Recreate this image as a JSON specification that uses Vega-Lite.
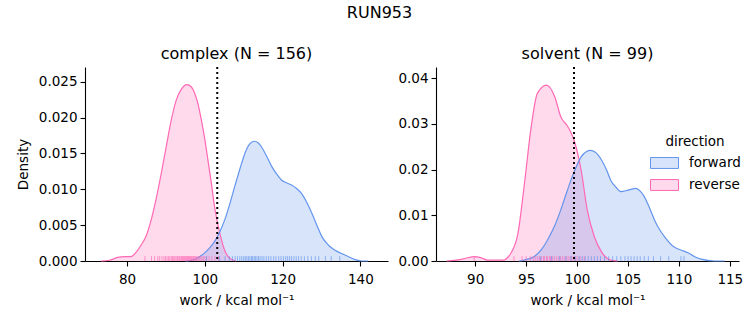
{
  "$schema": "https://vega.github.io/schema/vega-lite/v6.json",
  "padding": {"left": 16, "top": 5, "right": 5, "bottom": 5},
  "title": {"text": "RUN953", "fontSize": 16, "font": "DejaVu Sans", "fontWeight": "normal", "anchor": "middle", "frame": "bounds", "offset": 25, "color": "black"},
  "spacing": 9,
  "config": {
    "view": {"stroke": null},
    "font": "DejaVu Sans",
    "axis": {"grid": false, "domainColor": "black", "tickColor": "black", "labelColor": "black", "titleColor": "black", "labelFont": "DejaVu Sans", "titleFont": "DejaVu Sans", "labelFontSize": 13.5, "titleFontSize": 13.5, "titleFontWeight": "normal", "tickSize": 5, "labelPadding": 3, "domainWidth": 1.1, "tickWidth": 1.1, "labelOverlap": false},
    "axisX": {"labelPadding": 6, "titlePadding": 8},
    "title": {"fontSize": 16, "font": "DejaVu Sans", "fontWeight": "normal", "color": "black", "offset": 4}
  },
  "datasets": {
    "kde": [
      {"panel": "complex", "direction": "reverse", "work": 73.3, "density": 0},
      {"panel": "complex", "direction": "reverse", "work": 75.5, "density": 0.0001},
      {"panel": "complex", "direction": "reverse", "work": 77.6, "density": 0.0005},
      {"panel": "complex", "direction": "reverse", "work": 79.5, "density": 0.0006},
      {"panel": "complex", "direction": "reverse", "work": 81.0, "density": 0.0006},
      {"panel": "complex", "direction": "reverse", "work": 82.3, "density": 0.0012},
      {"panel": "complex", "direction": "reverse", "work": 83.6, "density": 0.0022},
      {"panel": "complex", "direction": "reverse", "work": 85.0, "density": 0.0036},
      {"panel": "complex", "direction": "reverse", "work": 86.2, "density": 0.0057},
      {"panel": "complex", "direction": "reverse", "work": 87.5, "density": 0.0087},
      {"panel": "complex", "direction": "reverse", "work": 88.8, "density": 0.0122},
      {"panel": "complex", "direction": "reverse", "work": 90.1, "density": 0.0160},
      {"panel": "complex", "direction": "reverse", "work": 91.4, "density": 0.0197},
      {"panel": "complex", "direction": "reverse", "work": 92.7, "density": 0.0225},
      {"panel": "complex", "direction": "reverse", "work": 93.9, "density": 0.0239},
      {"panel": "complex", "direction": "reverse", "work": 95.4, "density": 0.0246},
      {"panel": "complex", "direction": "reverse", "work": 96.5, "density": 0.0243},
      {"panel": "complex", "direction": "reverse", "work": 97.4, "density": 0.0234},
      {"panel": "complex", "direction": "reverse", "work": 98.3, "density": 0.0218},
      {"panel": "complex", "direction": "reverse", "work": 99.1, "density": 0.0197},
      {"panel": "complex", "direction": "reverse", "work": 100.0, "density": 0.0170},
      {"panel": "complex", "direction": "reverse", "work": 100.8, "density": 0.0141},
      {"panel": "complex", "direction": "reverse", "work": 101.7, "density": 0.0108},
      {"panel": "complex", "direction": "reverse", "work": 102.5, "density": 0.0076},
      {"panel": "complex", "direction": "reverse", "work": 103.4, "density": 0.0050},
      {"panel": "complex", "direction": "reverse", "work": 104.3, "density": 0.0029},
      {"panel": "complex", "direction": "reverse", "work": 105.1, "density": 0.0015},
      {"panel": "complex", "direction": "reverse", "work": 106.0, "density": 0.0006},
      {"panel": "complex", "direction": "reverse", "work": 107.0, "density": 0.0002},
      {"panel": "complex", "direction": "reverse", "work": 108.0, "density": 0},
      {"panel": "complex", "direction": "forward", "work": 95.0, "density": 0},
      {"panel": "complex", "direction": "forward", "work": 96.5, "density": 0.0001},
      {"panel": "complex", "direction": "forward", "work": 98.3, "density": 0.0005},
      {"panel": "complex", "direction": "forward", "work": 99.9, "density": 0.0011},
      {"panel": "complex", "direction": "forward", "work": 101.2, "density": 0.0018},
      {"panel": "complex", "direction": "forward", "work": 102.5, "density": 0.0027},
      {"panel": "complex", "direction": "forward", "work": 103.8, "density": 0.0040},
      {"panel": "complex", "direction": "forward", "work": 105.1, "density": 0.0057},
      {"panel": "complex", "direction": "forward", "work": 106.4, "density": 0.0079},
      {"panel": "complex", "direction": "forward", "work": 107.7, "density": 0.0104},
      {"panel": "complex", "direction": "forward", "work": 109.0, "density": 0.0128},
      {"panel": "complex", "direction": "forward", "work": 110.3, "density": 0.0150},
      {"panel": "complex", "direction": "forward", "work": 111.5, "density": 0.0163},
      {"panel": "complex", "direction": "forward", "work": 112.7, "density": 0.0167},
      {"panel": "complex", "direction": "forward", "work": 113.7, "density": 0.0165},
      {"panel": "complex", "direction": "forward", "work": 114.6, "density": 0.0159},
      {"panel": "complex", "direction": "forward", "work": 115.9, "density": 0.0146},
      {"panel": "complex", "direction": "forward", "work": 117.2, "density": 0.0132},
      {"panel": "complex", "direction": "forward", "work": 118.5, "density": 0.0121},
      {"panel": "complex", "direction": "forward", "work": 119.7, "density": 0.0113},
      {"panel": "complex", "direction": "forward", "work": 121.0, "density": 0.0109},
      {"panel": "complex", "direction": "forward", "work": 122.3, "density": 0.0106},
      {"panel": "complex", "direction": "forward", "work": 123.6, "density": 0.0101},
      {"panel": "complex", "direction": "forward", "work": 124.9, "density": 0.0094},
      {"panel": "complex", "direction": "forward", "work": 126.2, "density": 0.0082},
      {"panel": "complex", "direction": "forward", "work": 127.5, "density": 0.0067},
      {"panel": "complex", "direction": "forward", "work": 128.8, "density": 0.0050},
      {"panel": "complex", "direction": "forward", "work": 130.1, "density": 0.0034},
      {"panel": "complex", "direction": "forward", "work": 131.8, "density": 0.0022},
      {"panel": "complex", "direction": "forward", "work": 133.5, "density": 0.0015},
      {"panel": "complex", "direction": "forward", "work": 135.3, "density": 0.0010},
      {"panel": "complex", "direction": "forward", "work": 137.0, "density": 0.0006},
      {"panel": "complex", "direction": "forward", "work": 138.7, "density": 0.0002},
      {"panel": "complex", "direction": "forward", "work": 140.4, "density": 0},
      {"panel": "complex", "direction": "forward", "work": 142.0, "density": 0},
      {"panel": "solvent", "direction": "reverse", "work": 87.2, "density": 0},
      {"panel": "solvent", "direction": "reverse", "work": 88.5, "density": 0.0003},
      {"panel": "solvent", "direction": "reverse", "work": 89.9, "density": 0.00095},
      {"panel": "solvent", "direction": "reverse", "work": 90.6, "density": 0.0007},
      {"panel": "solvent", "direction": "reverse", "work": 91.2, "density": 0.0002},
      {"panel": "solvent", "direction": "reverse", "work": 92.7, "density": 0.0002},
      {"panel": "solvent", "direction": "reverse", "work": 93.5, "density": 0.0017},
      {"panel": "solvent", "direction": "reverse", "work": 94.2, "density": 0.0061},
      {"panel": "solvent", "direction": "reverse", "work": 94.8, "density": 0.0163},
      {"panel": "solvent", "direction": "reverse", "work": 95.5, "density": 0.0294},
      {"panel": "solvent", "direction": "reverse", "work": 96.1, "density": 0.0367},
      {"panel": "solvent", "direction": "reverse", "work": 97.0, "density": 0.0385},
      {"panel": "solvent", "direction": "reverse", "work": 97.8, "density": 0.0360},
      {"panel": "solvent", "direction": "reverse", "work": 98.4, "density": 0.0316},
      {"panel": "solvent", "direction": "reverse", "work": 99.1, "density": 0.0294},
      {"panel": "solvent", "direction": "reverse", "work": 99.7, "density": 0.0265},
      {"panel": "solvent", "direction": "reverse", "work": 100.4, "density": 0.0199},
      {"panel": "solvent", "direction": "reverse", "work": 101.0, "density": 0.0112},
      {"panel": "solvent", "direction": "reverse", "work": 101.7, "density": 0.0053},
      {"panel": "solvent", "direction": "reverse", "work": 102.4, "density": 0.0020},
      {"panel": "solvent", "direction": "reverse", "work": 103.3, "density": 0.0002},
      {"panel": "solvent", "direction": "reverse", "work": 104.0, "density": 0},
      {"panel": "solvent", "direction": "forward", "work": 94.3, "density": 0},
      {"panel": "solvent", "direction": "forward", "work": 94.8, "density": 0.0002},
      {"panel": "solvent", "direction": "forward", "work": 95.8, "density": 0.0010},
      {"panel": "solvent", "direction": "forward", "work": 96.5, "density": 0.0025},
      {"panel": "solvent", "direction": "forward", "work": 97.1, "density": 0.0046},
      {"panel": "solvent", "direction": "forward", "work": 97.8, "density": 0.0077},
      {"panel": "solvent", "direction": "forward", "work": 98.4, "density": 0.0112},
      {"panel": "solvent", "direction": "forward", "work": 98.9, "density": 0.0145},
      {"panel": "solvent", "direction": "forward", "work": 99.4, "density": 0.0177},
      {"panel": "solvent", "direction": "forward", "work": 99.9, "density": 0.0205},
      {"panel": "solvent", "direction": "forward", "work": 100.4, "density": 0.0228},
      {"panel": "solvent", "direction": "forward", "work": 100.9, "density": 0.0239},
      {"panel": "solvent", "direction": "forward", "work": 101.3, "density": 0.0242},
      {"panel": "solvent", "direction": "forward", "work": 101.8, "density": 0.0238},
      {"panel": "solvent", "direction": "forward", "work": 102.4, "density": 0.0221},
      {"panel": "solvent", "direction": "forward", "work": 102.9, "density": 0.0199},
      {"panel": "solvent", "direction": "forward", "work": 103.3, "density": 0.0177},
      {"panel": "solvent", "direction": "forward", "work": 103.8, "density": 0.0162},
      {"panel": "solvent", "direction": "forward", "work": 104.3, "density": 0.0152},
      {"panel": "solvent", "direction": "forward", "work": 105.0, "density": 0.0155},
      {"panel": "solvent", "direction": "forward", "work": 105.8, "density": 0.0159},
      {"panel": "solvent", "direction": "forward", "work": 106.2, "density": 0.0153},
      {"panel": "solvent", "direction": "forward", "work": 106.6, "density": 0.0141},
      {"panel": "solvent", "direction": "forward", "work": 107.1, "density": 0.0117},
      {"panel": "solvent", "direction": "forward", "work": 107.6, "density": 0.0090},
      {"panel": "solvent", "direction": "forward", "work": 108.1, "density": 0.0069},
      {"panel": "solvent", "direction": "forward", "work": 108.6, "density": 0.0053},
      {"panel": "solvent", "direction": "forward", "work": 109.5, "density": 0.0031},
      {"panel": "solvent", "direction": "forward", "work": 110.2, "density": 0.0024},
      {"panel": "solvent", "direction": "forward", "work": 110.9, "density": 0.0018},
      {"panel": "solvent", "direction": "forward", "work": 111.5, "density": 0.0010},
      {"panel": "solvent", "direction": "forward", "work": 112.2, "density": 0.0004},
      {"panel": "solvent", "direction": "forward", "work": 113.5, "density": 0},
      {"panel": "solvent", "direction": "forward", "work": 114.5, "density": 0}
    ],
    "rug": [
      {"panel": "complex", "direction": "reverse", "work": 84.6}, {"panel": "complex", "direction": "reverse", "work": 86.3}, {"panel": "complex", "direction": "reverse", "work": 87.1}, {"panel": "complex", "direction": "reverse", "work": 87.9}, {"panel": "complex", "direction": "reverse", "work": 88.4}, {"panel": "complex", "direction": "reverse", "work": 89.0}, {"panel": "complex", "direction": "reverse", "work": 89.5}, {"panel": "complex", "direction": "reverse", "work": 89.9}, {"panel": "complex", "direction": "reverse", "work": 90.3}, {"panel": "complex", "direction": "reverse", "work": 90.7}, {"panel": "complex", "direction": "reverse", "work": 91.0}, {"panel": "complex", "direction": "reverse", "work": 91.4}, {"panel": "complex", "direction": "reverse", "work": 91.7}, {"panel": "complex", "direction": "reverse", "work": 92.0}, {"panel": "complex", "direction": "reverse", "work": 92.3}, {"panel": "complex", "direction": "reverse", "work": 92.6}, {"panel": "complex", "direction": "reverse", "work": 92.9}, {"panel": "complex", "direction": "reverse", "work": 93.1}, {"panel": "complex", "direction": "reverse", "work": 93.4}, {"panel": "complex", "direction": "reverse", "work": 93.6}, {"panel": "complex", "direction": "reverse", "work": 93.9}, {"panel": "complex", "direction": "reverse", "work": 94.1}, {"panel": "complex", "direction": "reverse", "work": 94.3}, {"panel": "complex", "direction": "reverse", "work": 94.5}, {"panel": "complex", "direction": "reverse", "work": 94.8}, {"panel": "complex", "direction": "reverse", "work": 95.0}, {"panel": "complex", "direction": "reverse", "work": 95.2}, {"panel": "complex", "direction": "reverse", "work": 95.4}, {"panel": "complex", "direction": "reverse", "work": 95.6}, {"panel": "complex", "direction": "reverse", "work": 95.8}, {"panel": "complex", "direction": "reverse", "work": 96.0}, {"panel": "complex", "direction": "reverse", "work": 96.2}, {"panel": "complex", "direction": "reverse", "work": 96.4}, {"panel": "complex", "direction": "reverse", "work": 96.6}, {"panel": "complex", "direction": "reverse", "work": 96.9}, {"panel": "complex", "direction": "reverse", "work": 97.1}, {"panel": "complex", "direction": "reverse", "work": 97.3}, {"panel": "complex", "direction": "reverse", "work": 97.6}, {"panel": "complex", "direction": "reverse", "work": 97.9}, {"panel": "complex", "direction": "reverse", "work": 98.2}, {"panel": "complex", "direction": "reverse", "work": 98.5}, {"panel": "complex", "direction": "reverse", "work": 98.8}, {"panel": "complex", "direction": "reverse", "work": 99.2}, {"panel": "complex", "direction": "reverse", "work": 99.6}, {"panel": "complex", "direction": "reverse", "work": 100.0}, {"panel": "complex", "direction": "reverse", "work": 100.5}, {"panel": "complex", "direction": "reverse", "work": 101.1}, {"panel": "complex", "direction": "reverse", "work": 101.8}, {"panel": "complex", "direction": "reverse", "work": 102.6}, {"panel": "complex", "direction": "reverse", "work": 103.5},
      {"panel": "complex", "direction": "forward", "work": 100.4}, {"panel": "complex", "direction": "forward", "work": 103.8}, {"panel": "complex", "direction": "forward", "work": 105.2}, {"panel": "complex", "direction": "forward", "work": 106.3}, {"panel": "complex", "direction": "forward", "work": 107.1}, {"panel": "complex", "direction": "forward", "work": 107.8}, {"panel": "complex", "direction": "forward", "work": 108.4}, {"panel": "complex", "direction": "forward", "work": 109.0}, {"panel": "complex", "direction": "forward", "work": 109.5}, {"panel": "complex", "direction": "forward", "work": 110.0}, {"panel": "complex", "direction": "forward", "work": 110.4}, {"panel": "complex", "direction": "forward", "work": 110.8}, {"panel": "complex", "direction": "forward", "work": 111.2}, {"panel": "complex", "direction": "forward", "work": 111.6}, {"panel": "complex", "direction": "forward", "work": 112.0}, {"panel": "complex", "direction": "forward", "work": 112.3}, {"panel": "complex", "direction": "forward", "work": 112.7}, {"panel": "complex", "direction": "forward", "work": 113.0}, {"panel": "complex", "direction": "forward", "work": 113.4}, {"panel": "complex", "direction": "forward", "work": 113.8}, {"panel": "complex", "direction": "forward", "work": 114.2}, {"panel": "complex", "direction": "forward", "work": 114.7}, {"panel": "complex", "direction": "forward", "work": 115.2}, {"panel": "complex", "direction": "forward", "work": 115.8}, {"panel": "complex", "direction": "forward", "work": 116.4}, {"panel": "complex", "direction": "forward", "work": 117.0}, {"panel": "complex", "direction": "forward", "work": 117.7}, {"panel": "complex", "direction": "forward", "work": 118.3}, {"panel": "complex", "direction": "forward", "work": 119.0}, {"panel": "complex", "direction": "forward", "work": 119.6}, {"panel": "complex", "direction": "forward", "work": 120.2}, {"panel": "complex", "direction": "forward", "work": 120.8}, {"panel": "complex", "direction": "forward", "work": 121.3}, {"panel": "complex", "direction": "forward", "work": 121.8}, {"panel": "complex", "direction": "forward", "work": 122.3}, {"panel": "complex", "direction": "forward", "work": 122.9}, {"panel": "complex", "direction": "forward", "work": 123.5}, {"panel": "complex", "direction": "forward", "work": 124.1}, {"panel": "complex", "direction": "forward", "work": 124.8}, {"panel": "complex", "direction": "forward", "work": 125.6}, {"panel": "complex", "direction": "forward", "work": 126.5}, {"panel": "complex", "direction": "forward", "work": 127.4}, {"panel": "complex", "direction": "forward", "work": 128.4}, {"panel": "complex", "direction": "forward", "work": 129.3}, {"panel": "complex", "direction": "forward", "work": 131.0}, {"panel": "complex", "direction": "forward", "work": 132.5}, {"panel": "complex", "direction": "forward", "work": 134.7},
      {"panel": "solvent", "direction": "reverse", "work": 89.9}, {"panel": "solvent", "direction": "reverse", "work": 93.8}, {"panel": "solvent", "direction": "reverse", "work": 94.6}, {"panel": "solvent", "direction": "reverse", "work": 95.0}, {"panel": "solvent", "direction": "reverse", "work": 95.4}, {"panel": "solvent", "direction": "reverse", "work": 95.7}, {"panel": "solvent", "direction": "reverse", "work": 95.9}, {"panel": "solvent", "direction": "reverse", "work": 96.1}, {"panel": "solvent", "direction": "reverse", "work": 96.3}, {"panel": "solvent", "direction": "reverse", "work": 96.5}, {"panel": "solvent", "direction": "reverse", "work": 96.7}, {"panel": "solvent", "direction": "reverse", "work": 96.8}, {"panel": "solvent", "direction": "reverse", "work": 97.0}, {"panel": "solvent", "direction": "reverse", "work": 97.1}, {"panel": "solvent", "direction": "reverse", "work": 97.3}, {"panel": "solvent", "direction": "reverse", "work": 97.4}, {"panel": "solvent", "direction": "reverse", "work": 97.6}, {"panel": "solvent", "direction": "reverse", "work": 97.8}, {"panel": "solvent", "direction": "reverse", "work": 98.0}, {"panel": "solvent", "direction": "reverse", "work": 98.2}, {"panel": "solvent", "direction": "reverse", "work": 98.4}, {"panel": "solvent", "direction": "reverse", "work": 98.6}, {"panel": "solvent", "direction": "reverse", "work": 98.8}, {"panel": "solvent", "direction": "reverse", "work": 99.0}, {"panel": "solvent", "direction": "reverse", "work": 99.2}, {"panel": "solvent", "direction": "reverse", "work": 99.4}, {"panel": "solvent", "direction": "reverse", "work": 99.6}, {"panel": "solvent", "direction": "reverse", "work": 99.8}, {"panel": "solvent", "direction": "reverse", "work": 100.0}, {"panel": "solvent", "direction": "reverse", "work": 100.3}, {"panel": "solvent", "direction": "reverse", "work": 100.7},
      {"panel": "solvent", "direction": "forward", "work": 96.4}, {"panel": "solvent", "direction": "forward", "work": 97.5}, {"panel": "solvent", "direction": "forward", "work": 98.3}, {"panel": "solvent", "direction": "forward", "work": 98.9}, {"panel": "solvent", "direction": "forward", "work": 99.4}, {"panel": "solvent", "direction": "forward", "work": 99.8}, {"panel": "solvent", "direction": "forward", "work": 100.2}, {"panel": "solvent", "direction": "forward", "work": 100.5}, {"panel": "solvent", "direction": "forward", "work": 100.8}, {"panel": "solvent", "direction": "forward", "work": 101.1}, {"panel": "solvent", "direction": "forward", "work": 101.4}, {"panel": "solvent", "direction": "forward", "work": 101.7}, {"panel": "solvent", "direction": "forward", "work": 102.0}, {"panel": "solvent", "direction": "forward", "work": 102.3}, {"panel": "solvent", "direction": "forward", "work": 102.7}, {"panel": "solvent", "direction": "forward", "work": 103.1}, {"panel": "solvent", "direction": "forward", "work": 103.5}, {"panel": "solvent", "direction": "forward", "work": 103.9}, {"panel": "solvent", "direction": "forward", "work": 104.3}, {"panel": "solvent", "direction": "forward", "work": 104.7}, {"panel": "solvent", "direction": "forward", "work": 105.0}, {"panel": "solvent", "direction": "forward", "work": 105.3}, {"panel": "solvent", "direction": "forward", "work": 105.6}, {"panel": "solvent", "direction": "forward", "work": 105.9}, {"panel": "solvent", "direction": "forward", "work": 106.2}, {"panel": "solvent", "direction": "forward", "work": 106.6}, {"panel": "solvent", "direction": "forward", "work": 107.0}, {"panel": "solvent", "direction": "forward", "work": 107.5}, {"panel": "solvent", "direction": "forward", "work": 108.2}, {"panel": "solvent", "direction": "forward", "work": 109.0}, {"panel": "solvent", "direction": "forward", "work": 110.2}, {"panel": "solvent", "direction": "forward", "work": 110.5}
    ]
  },
  "hconcat": [
    {
      "width": 303,
      "height": 194,
      "title": "complex (N = 156)",
      "layer": [
        {
          "data": {"name": "kde"},
          "transform": [{"filter": "datum.panel === 'complex'"}],
          "mark": {"type": "area", "fillOpacity": 0.25, "interpolate": "monotone"},
          "encoding": {
            "x": {"field": "work", "type": "quantitative", "scale": {"domain": [69.2, 147.1], "nice": false, "zero": false}, "axis": {"values": [80, 100, 120, 140], "title": "work / kcal mol⁻¹"}},
            "y": {"field": "density", "type": "quantitative", "stack": null, "scale": {"domain": [0, 0.02705], "nice": false}, "axis": {"values": [0, 0.005, 0.01, 0.015, 0.02, 0.025], "format": ".3f", "title": "Density", "titlePadding": 8}},
            "color": {"field": "direction", "type": "nominal", "scale": {"domain": ["forward", "reverse"], "range": ["#6495ED", "#FF69B4"]},
              "legend": {"orient": "none", "legendX": 565, "legendY": 68, "title": "direction", "titleFontWeight": "normal", "titleFontSize": 13.5, "labelFontSize": 13.5, "titleAnchor": "middle", "titleColor": "black", "labelColor": "black", "titleFont": "DejaVu Sans", "labelFont": "DejaVu Sans", "symbolType": "M-1,-0.39H1V0.39H-1Z", "symbolSize": 784, "labelOffset": 10, "rowPadding": -7.3, "titlePadding": 0,
                "encode": {"symbols": {"update": {"fillOpacity": {"value": 0.25}, "stroke": {"scale": "color", "field": "value"}, "strokeWidth": {"value": 1}, "opacity": {"value": 1}}}}}}
          }
        },
        {
          "data": {"name": "kde"},
          "transform": [{"filter": "datum.panel === 'complex'"}],
          "mark": {"type": "line", "strokeWidth": 1.2, "interpolate": "monotone"},
          "encoding": {
            "x": {"field": "work", "type": "quantitative", "axis": {"values": [80, 100, 120, 140], "title": "work / kcal mol⁻¹"}},
            "y": {"field": "density", "type": "quantitative", "stack": null, "axis": {"values": [0, 0.005, 0.01, 0.015, 0.02, 0.025], "format": ".3f", "title": "Density", "titlePadding": 8}},
            "color": {"field": "direction", "type": "nominal"}
          }
        },
        {
          "data": {"name": "rug"},
          "transform": [{"filter": "datum.panel === 'complex'"}],
          "mark": {"type": "rule", "strokeWidth": 1, "strokeOpacity": 0.65},
          "encoding": {
            "x": {"field": "work", "type": "quantitative", "axis": {"values": [80, 100, 120, 140], "title": "work / kcal mol⁻¹"}},
            "y": {"datum": 0, "type": "quantitative", "axis": {"values": [0, 0.005, 0.01, 0.015, 0.02, 0.025], "format": ".3f", "title": "Density", "titlePadding": 8}},
            "y2": {"datum": 0.00068},
            "color": {"field": "direction", "type": "nominal"}
          }
        },
        {
          "data": {"values": [{"v": 103.2}]},
          "mark": {"type": "rule", "color": "black", "strokeWidth": 2, "strokeDash": [2, 3]},
          "encoding": {"x": {"field": "v", "type": "quantitative", "axis": {"values": [80, 100, 120, 140], "title": "work / kcal mol⁻¹"}}}
        }
      ]
    },
    {
      "width": 303,
      "height": 194,
      "title": "solvent (N = 99)",
      "layer": [
        {
          "data": {"name": "kde"},
          "transform": [{"filter": "datum.panel === 'solvent'"}],
          "mark": {"type": "area", "fillOpacity": 0.25, "interpolate": "monotone"},
          "encoding": {
            "x": {"field": "work", "type": "quantitative", "scale": {"domain": [86.15, 115.9], "nice": false, "zero": false}, "axis": {"values": [90, 95, 100, 105, 110, 115], "title": "work / kcal mol⁻¹"}},
            "y": {"field": "density", "type": "quantitative", "stack": null, "scale": {"domain": [0, 0.04247], "nice": false}, "axis": {"values": [0, 0.01, 0.02, 0.03, 0.04], "format": ".2f", "title": null}},
            "color": {"field": "direction", "type": "nominal"}
          }
        },
        {
          "data": {"name": "kde"},
          "transform": [{"filter": "datum.panel === 'solvent'"}],
          "mark": {"type": "line", "strokeWidth": 1.2, "interpolate": "monotone"},
          "encoding": {
            "x": {"field": "work", "type": "quantitative", "axis": {"values": [90, 95, 100, 105, 110, 115], "title": "work / kcal mol⁻¹"}},
            "y": {"field": "density", "type": "quantitative", "stack": null, "axis": {"values": [0, 0.01, 0.02, 0.03, 0.04], "format": ".2f", "title": null}},
            "color": {"field": "direction", "type": "nominal"}
          }
        },
        {
          "data": {"name": "rug"},
          "transform": [{"filter": "datum.panel === 'solvent'"}],
          "mark": {"type": "rule", "strokeWidth": 1, "strokeOpacity": 0.65},
          "encoding": {
            "x": {"field": "work", "type": "quantitative", "axis": {"values": [90, 95, 100, 105, 110, 115], "title": "work / kcal mol⁻¹"}},
            "y": {"datum": 0, "type": "quantitative", "axis": {"values": [0, 0.01, 0.02, 0.03, 0.04], "format": ".2f", "title": null}},
            "y2": {"datum": 0.00106},
            "color": {"field": "direction", "type": "nominal"}
          }
        },
        {
          "data": {"values": [{"v": 99.7}]},
          "mark": {"type": "rule", "color": "black", "strokeWidth": 2, "strokeDash": [2, 3]},
          "encoding": {"x": {"field": "v", "type": "quantitative", "axis": {"values": [90, 95, 100, 105, 110, 115], "title": "work / kcal mol⁻¹"}}}
        }
      ]
    }
  ],
  "resolve": {"scale": {"x": "independent", "y": "independent"}}
}
